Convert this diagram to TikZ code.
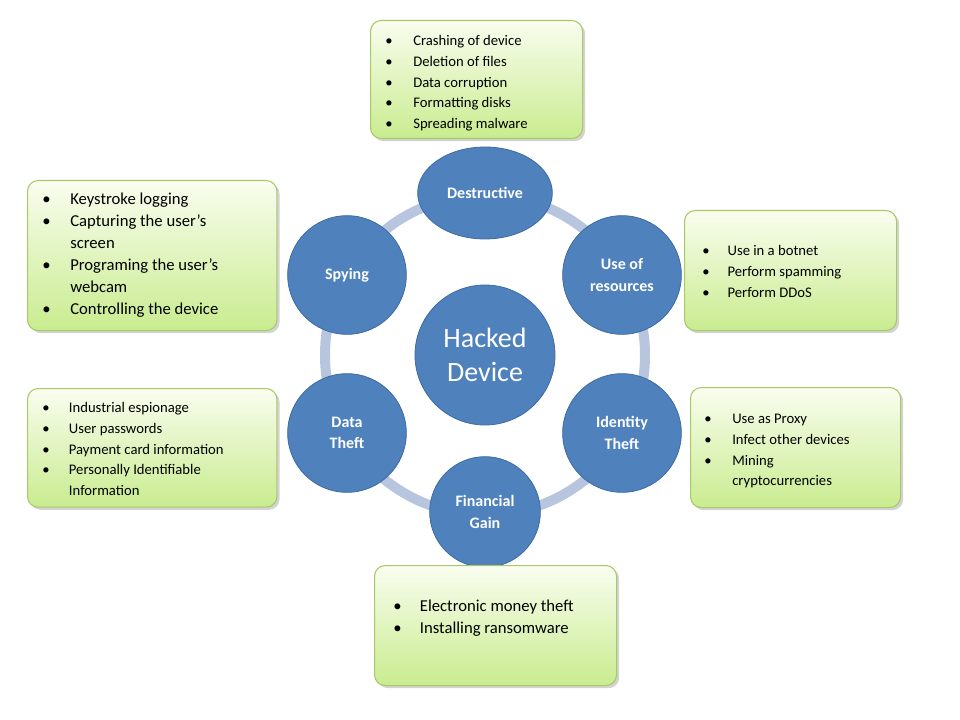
\documentclass[tikz,border=0pt]{standalone}
\usepackage{fontspec}
\setmainfont{Carlito}
\usetikzlibrary{shadows,shapes.geometric}
\definecolor{circ}{HTML}{4F81BD}
\definecolor{circb}{HTML}{3E6BA0}
\definecolor{ring}{HTML}{B7C5DF}
\definecolor{gtop}{HTML}{F9FDEF}
\definecolor{gbot}{HTML}{C9EC8F}
\definecolor{gbord}{HTML}{A8C86A}
\begin{document}
\begin{tikzpicture}[x=0.75pt,y=-0.75pt,
  bub/.style={circle,fill=circ,draw=circb,line width=0.6pt,text=white,font=\fontsize{12}{16}\selectfont\bfseries,align=center,inner sep=0pt},
  box/.style={draw=gbord,line width=0.8pt,rounded corners=8pt,top color=gtop,bottom color=gbot,drop shadow={opacity=0.35,shadow xshift=2pt,shadow yshift=-2pt},anchor=north west,inner sep=0pt},
  lst/.style={anchor=north west,inner sep=0pt,align=left,font=\fontsize{11}{15.5}\selectfont}]
\useasboundingbox (0,0) rectangle (960,720);
\draw[ring,line width=7.5pt] (485,355) circle (160);
\node[bub,minimum size=105pt,font=\fontsize{21}{26}\selectfont] (hd) at (485,355) {Hacked\\Device};
\node[bub,ellipse,minimum width=101pt,minimum height=69pt] (de) at (485,193) {Destructive};
\node[bub,minimum size=89pt] (ur) at (622,275) {Use of\\resources};
\node[bub,minimum size=89pt] (it) at (622,433) {Identity\\Theft};
\node[bub,minimum size=83pt] (fg) at (485,512) {Financial\\Gain};
\node[bub,minimum size=89pt] (dt) at (347,433) {Data\\Theft};
\node[bub,minimum size=89pt] (sp) at (347,275) {Spying};
\newcommand{\bl}{\textbullet}
\node[box,minimum width=159pt,minimum height=88.5pt] (b1) at (370,20) {};
\node[lst] (t1) at (385,31) {\begin{tabular}{@{}p{21pt}@{}l@{}}\bl&Crashing of device\\\bl&Deletion of files\\\bl&Data corruption\\\bl&Formatting disks\\\bl&Spreading malware\end{tabular}};
\node[box,minimum width=187pt,minimum height=112.5pt] (b2) at (27,180) {};
\node[lst,font=\fontsize{12.5}{16.5}\selectfont] (t2) at (42,189) {\begin{tabular}{@{}p{21pt}@{}l@{}}\bl&Keystroke logging\\\bl&Capturing the user's\\&screen\\\bl&Programing the user's\\&webcam\\\bl&Controlling the device\end{tabular}};
\node[box,minimum width=159pt,minimum height=90pt] (b3) at (684,210) {};
\node[lst] (t3) at (702,241) {\begin{tabular}{@{}p{19pt}@{}l@{}}\bl&Use in a botnet\\\bl&Perform spamming\\\bl&Perform DDoS\end{tabular}};
\node[box,minimum width=187pt,minimum height=89pt] (b4) at (27,388) {};
\node[lst] (t4) at (42,398) {\begin{tabular}{@{}p{20pt}@{}l@{}}\bl&Industrial espionage\\\bl&User passwords\\\bl&Payment card information\\\bl&Personally Identifiable\\&Information\end{tabular}};
\node[box,minimum width=157.5pt,minimum height=90pt] (b5) at (690,387) {};
\node[lst] (t5) at (704,409) {\begin{tabular}{@{}p{21pt}@{}l@{}}\bl&Use as Proxy\\\bl&Infect other devices\\\bl&Mining\\&cryptocurrencies\end{tabular}};
\node[box,minimum width=181.5pt,minimum height=90pt] (b6) at (374,565) {};
\node[lst,font=\fontsize{12.5}{17}\selectfont] (t6) at (393,595) {\begin{tabular}{@{}p{20pt}@{}l@{}}\bl&Electronic money theft\\\bl&Installing ransomware\end{tabular}};
\end{tikzpicture}
\end{document}
